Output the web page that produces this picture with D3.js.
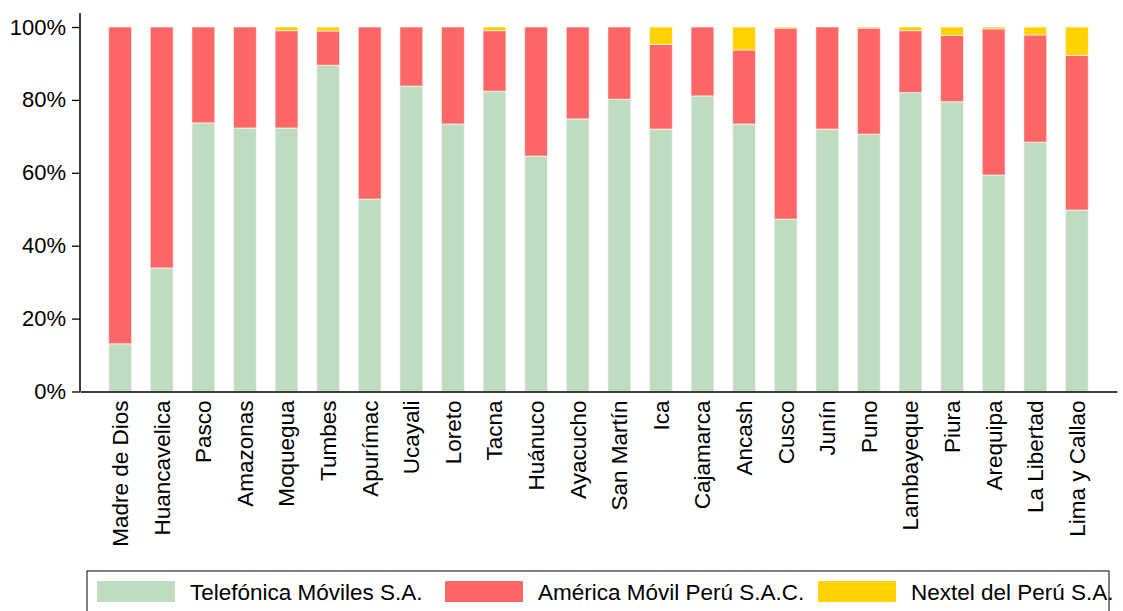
<!DOCTYPE html>
<html>
<head>
<meta charset="utf-8">
<script src="https://cdn.jsdelivr.net/npm/d3@7"></script>
<style>
  body { margin: 0; background: #fff; }
  text { font-family: "Liberation Sans", Arial, sans-serif; fill: #000; }
</style>
</head>
<body>
<div id="chart"></div>
<script>
const regions = ["Madre de Dios", "Huancavelica", "Pasco", "Amazonas", "Moquegua", "Tumbes",
  "Apurímac", "Ucayali", "Loreto", "Tacna", "Huánuco", "Ayacucho", "San Martín", "Ica",
  "Cajamarca", "Ancash", "Cusco", "Junín", "Puno", "Lambayeque", "Piura", "Arequipa",
  "La Libertad", "Lima y Callao"]

const telefonica = [13.1, 33.9, 73.7, 72.3, 72.3, 89.5, 52.8, 83.8, 73.4, 82.4, 64.6, 74.8,
  80.2, 72.0, 81.1, 73.4, 47.3, 72.0, 70.6, 82.0, 79.5, 59.4, 68.4, 49.8]
const america = [86.9, 66.1, 26.3, 27.7, 26.7, 9.4, 47.2, 16.2, 26.6, 16.6, 35.4, 25.2,
  19.8, 23.2, 18.9, 20.3, 52.4, 28.0, 29.1, 17.0, 18.2, 40.1, 29.4, 42.4]
const nextel = [0, 0, 0, 0, 1.0, 1.1, 0, 0, 0, 1.0, 0, 0,
  0, 4.8, 0, 6.3, 0.3, 0, 0.3, 1.0, 2.3, 0.5, 2.2, 7.8]

const seriesNames = ["Telefónica Móviles S.A.", "América Móvil Perú S.A.C.", "Nextel del Perú S.A."]
const colors = ["#c0dcc0", "#ff6666", "#ffd200"]
const yTicks = [0, 20, 40, 60, 80, 100]

const WIDTH = 1123
const HEIGHT = 611

const svg = d3.select("#chart").append("svg")
    .attr("width", WIDTH)
    .attr("height", HEIGHT)

const x = d3.scaleBand()
    .domain(regions)
    .range([80, 1117])
    .paddingInner(0.45)
    .paddingOuter(0.69)

const y = d3.scaleLinear()
    .domain([0, 100])
    .range([391.5, 27])

const table = regions.map((r, i) => ({
    region: r, t: telefonica[i], a: america[i], n: nextel[i]
}))

const stack = d3.stack().keys(["t", "a", "n"])
const layers = stack(table)

svg.append("g")
    .selectAll("g")
    .data(layers)
    .join("g")
    .attr("fill", (d, i) => colors[i])
    .selectAll("rect")
    .data(d => d)
    .join("rect")
    .attr("x", d => x(d.data.region))
    .attr("width", x.bandwidth())
    .attr("y", d => y(d[1]))
    .attr("height", d => Math.max(0, y(d[0]) - y(d[1])))
    .attr("stroke", "#fff")
    .attr("stroke-opacity", 0.6)
    .attr("stroke-width", 1)

// y axis
const yAxis = svg.append("g")
    .attr("transform", "translate(80,0)")
    .call(d3.axisLeft(y).tickValues(yTicks).tickFormat(d => d + "%").tickSize(8).tickPadding(6))
yAxis.select(".domain").attr("d", `M0,13V${y(0)}`).attr("stroke", "#000").attr("stroke-width", 1.5)
yAxis.selectAll(".tick line").attr("stroke", "#000").attr("stroke-width", 1.3)
yAxis.selectAll(".tick text")
    .attr("font-size", 22)
    .attr("font-family", "Liberation Sans, Arial, sans-serif")
    .attr("fill", "#000")

// x axis
const xAxis = svg.append("g")
    .attr("transform", `translate(0,${y(0)})`)
    .call(d3.axisBottom(x).tickSize(0).tickPadding(0))
xAxis.select(".domain").attr("stroke", "#000").attr("stroke-width", 1.5)
xAxis.selectAll(".tick text")
    .attr("font-size", 22.5)
    .attr("font-family", "Liberation Sans, Arial, sans-serif")
    .attr("fill", "#000")
    .attr("text-anchor", "end")
    .attr("dy", "0.35em")
    .attr("transform", "translate(0,9) rotate(-90)")

// legend
const legend = svg.append("g")
legend.append("rect")
    .attr("x", 87).attr("y", 571)
    .attr("width", 1022).attr("height", 50)
    .attr("fill", "none").attr("stroke", "#000").attr("stroke-width", 1)

const legendX = [97, 445, 818]
const item = legend.selectAll(".item")
    .data(seriesNames)
    .join("g")
    .attr("class", "item")
    .attr("transform", (d, i) => `translate(${legendX[i]},581)`)
item.append("rect")
    .attr("width", 78).attr("height", 21)
    .attr("fill", (d, i) => colors[i])
item.append("text")
    .attr("x", 93).attr("y", 19)
    .attr("font-size", 22.5)
    .text(d => d)
</script>
</body>
</html>
